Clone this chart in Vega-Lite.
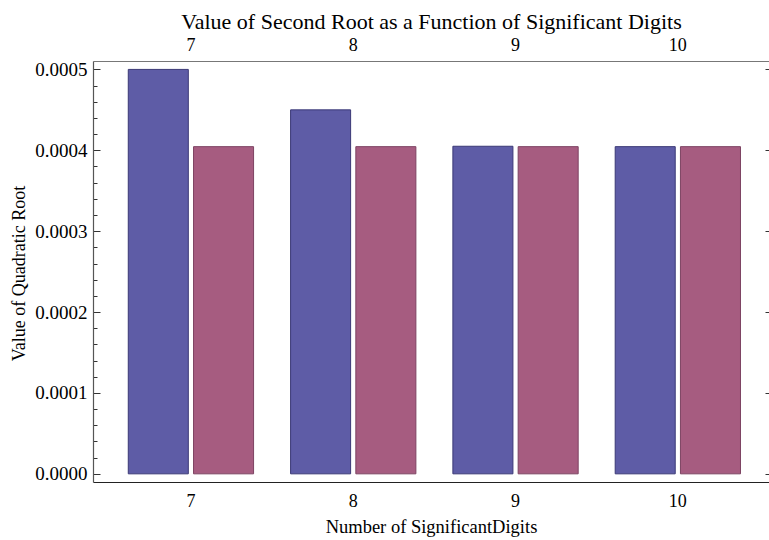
{
  "$schema": "https://vega.github.io/schema/vega-lite/v6.json",
  "width": 676,
  "height": 421,
  "autosize": {"type": "none"},
  "padding": {"left": 93, "top": 61, "right": 0, "bottom": 58},
  "background": "white",
  "config": {
    "font": "Liberation Serif",
    "view": {"stroke": null},
    "axis": {"labelFont": "Liberation Serif", "titleFont": "Liberation Serif", "labelColor": "black", "titleColor": "black", "titleFontWeight": "normal"}
  },
  "data": {
    "values": [
      {"digits": 7, "series": "Computed", "root": 0.0005},
      {"digits": 7, "series": "Exact", "root": 0.0004045},
      {"digits": 8, "series": "Computed", "root": 0.00045},
      {"digits": 8, "series": "Exact", "root": 0.0004045},
      {"digits": 9, "series": "Computed", "root": 0.000405},
      {"digits": 9, "series": "Exact", "root": 0.0004045},
      {"digits": 10, "series": "Computed", "root": 0.0004045},
      {"digits": 10, "series": "Exact", "root": 0.0004045}
    ]
  },
  "layer": [
    {
      "mark": {"type": "bar", "strokeWidth": 1},
      "encoding": {
        "x": {
          "field": "digits",
          "type": "ordinal",
          "scale": {"paddingInner": 0.228, "paddingOuter": 0.1965, "align": 0.553},
          "axis": {
            "orient": "bottom",
            "title": "Number of SignificantDigits",
            "titleFontSize": 18.5,
            "titlePadding": 7,
            "labelFontSize": 18,
            "labelAngle": 0,
            "labelPadding": 10,
            "ticks": false,
            "domainColor": "#222222",
            "domainWidth": 1.2
          }
        },
        "xOffset": {
          "field": "series",
          "type": "nominal",
          "scale": {"paddingInner": 0.08, "paddingOuter": 0}
        },
        "y": {
          "field": "root",
          "type": "quantitative",
          "scale": {"domain": [-0.0000101, 0.0005104], "nice": false, "zero": false},
          "axis": {
            "orient": "left",
            "offset": -7,
            "domain": false,
            "title": "Value of Quadratic Root",
            "titleFontSize": 18,
            "titlePadding": 6,
            "titleY": 212,
            "labelFontSize": 19,
            "values": [0, 0.0001, 0.0002, 0.0003, 0.0004, 0.0005],
            "format": ".4f",
            "ticks": true,
            "tickSize": 7,
            "tickWidth": 1,
            "tickColor": "#333333",
            "labelPadding": 6,
            "grid": false
          }
        },
        "color": {
          "field": "series",
          "type": "nominal",
          "scale": {"domain": ["Computed", "Exact"], "range": ["#5E5CA6", "#A65C80"]},
          "legend": null
        },
        "stroke": {
          "field": "series",
          "type": "nominal",
          "scale": {"domain": ["Computed", "Exact"], "range": ["#3B3976", "#7D4362"]},
          "legend": null
        }
      }
    },
    {
      "mark": {"type": "bar", "opacity": 0},
      "encoding": {
        "x": {
          "field": "digits",
          "type": "ordinal",
          "scale": {"paddingInner": 0.228, "paddingOuter": 0.1965, "align": 0.553},
          "axis": null
        },
        "y": {
          "field": "root",
          "type": "quantitative",
          "scale": {"domain": [-0.0000101, 0.0005104], "nice": false, "zero": false},
          "axis": {
            "orient": "left",
            "offset": -4,
            "title": null,
            "labels": false,
            "domain": false,
            "values": [0.00002, 0.00004, 0.00006, 0.00008, 0.00012, 0.00014, 0.00016, 0.00018, 0.00022, 0.00024, 0.00026, 0.00028, 0.00032, 0.00034, 0.00036, 0.00038, 0.00042, 0.00044, 0.00046, 0.00048],
            "ticks": true,
            "tickSize": 4,
            "tickWidth": 1,
            "tickColor": "#333333",
            "grid": false
          }
        }
      }
    },
    {
      "mark": {"type": "bar", "opacity": 0},
      "encoding": {
        "x": {
          "field": "digits",
          "type": "ordinal",
          "scale": {"paddingInner": 0.228, "paddingOuter": 0.1965, "align": 0.553},
          "axis": null
        },
        "y": {
          "field": "root",
          "type": "quantitative",
          "scale": {"domain": [-0.0000101, 0.0005104], "nice": false, "zero": false},
          "axis": {
            "orient": "left",
            "offset": 0,
            "title": null,
            "labels": false,
            "ticks": false,
            "domain": true,
            "domainColor": "#555555",
            "domainWidth": 1.2,
            "grid": false
          }
        }
      }
    },
    {
      "mark": {"type": "bar", "opacity": 0},
      "encoding": {
        "x": {
          "field": "digits",
          "type": "ordinal",
          "scale": {"paddingInner": 0.228, "paddingOuter": 0.1965, "align": 0.553},
          "axis": {
            "orient": "top",
            "title": "Value of Second Root as a Function of Significant Digits",
            "titleFontSize": 22,
            "titlePadding": 3,
            "labelFontSize": 18,
            "labelAngle": 0,
            "labelPadding": 7,
            "ticks": false,
            "domainColor": "#777777",
            "domainWidth": 1.2
          }
        },
        "y": {
          "field": "root",
          "type": "quantitative",
          "scale": {"domain": [-0.0000101, 0.0005104], "nice": false, "zero": false},
          "axis": {
            "orient": "right",
            "offset": -4,
            "title": null,
            "labels": false,
            "domain": false,
            "values": [0, 0.0001, 0.0002, 0.0003, 0.0004, 0.0005],
            "ticks": true,
            "tickSize": 4,
            "tickWidth": 1,
            "tickColor": "#333333",
            "grid": false
          }
        }
      }
    }
  ],
  "resolve": {
    "scale": {"x": "independent", "y": "independent", "color": "shared"},
    "axis": {"x": "independent", "y": "independent"}
  }
}
